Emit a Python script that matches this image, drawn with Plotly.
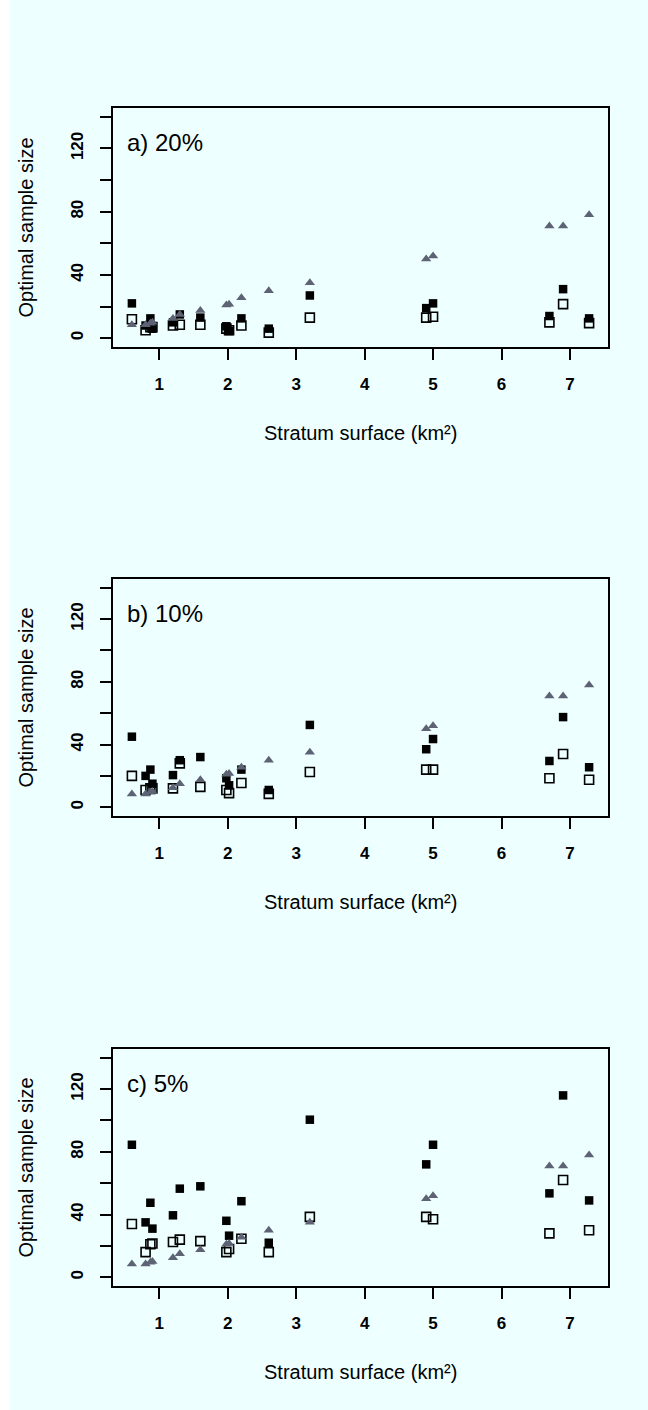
import plotly.graph_objects as go

# Stratum surfaces (km²)
surface = [0.6, 0.8, 0.87, 0.9, 1.2, 1.3, 1.6, 1.98, 2.02, 2.2, 2.6, 3.2, 4.9, 5.0, 6.7, 6.9, 7.28]

# Grey triangles (same in every panel)
tri_vals = [8.5, 8.5, 9.5, 10, 12.5, 15, 17.5, 21, 21.5, 25.5, 30, 35, 50, 52, 71, 71, 78]

# Panel a) 20%
filled_a = [22, 8, 12.5, 6, 10, 15, 13, 7.5, 4.5, 12.5, 6, 27, 19, 22, 14, 31, 12.5]
open_a = [12, 5, 7, 7, 8, 8.5, 8.5, 6, 5, 8, 3.5, 13, 13, 13.5, 10, 21.5, 9.5]

# Panel b) 10%
filled_b = [45, 20, 24, 15, 20.5, 30, 32, 18.5, 14, 24, 11, 52.5, 37, 43.5, 29.5, 57.5, 25.5]
open_b = [20, 11, 12, 12, 12, 28, 13, 11, 9, 15.5, 8.5, 22.5, 24, 24, 18.5, 34, 17.5]

# Panel c) 5%
filled_c = [84.5, 35, 47.5, 31, 39.5, 56.5, 58, 36, 26.5, 48.5, 22, 100.5, 72, 84.5, 53.5, 116, 49]
open_c = [34, 16, 21, 21.5, 22.5, 24, 23, 16, 18, 24.5, 16, 38.5, 38.5, 37, 28, 62, 30]

panel_labels = ["a) 20%", "b) 10%", "c) 5%"]
x_ticks = [1, 2, 3, 4, 5, 6, 7]
y_ticks = [0, 20, 40, 60, 80, 100, 120, 140]
y_ticktext = ["0", "", "40", "", "80", "", "120", ""]

W, H = 648, 1410
ML, MR, MT, MB = 113, 40, 108, 124
PW, PH = W - ML - MR, H - MT - MB

BG = "#eeffff"
TRI = "#5d6374"
FONT = "Liberation Sans, Arial, sans-serif"

# panel top/bottom in pixels
panels_px = [(108, 347), (579, 816), (1049, 1286)]


def py2paper(p):
    return 1 - (p - MT) / PH


def px2paper(p):
    return (p - ML) / PW


fig = go.Figure()
data_sets = [(filled_a, open_a), (filled_b, open_b), (filled_c, open_c)]

annotations = []
for i, ((fil, opn), (top, bot)) in enumerate(zip(data_sets, panels_px)):
    xa = "x" if i == 0 else f"x{i+1}"
    ya = "y" if i == 0 else f"y{i+1}"
    fig.add_trace(go.Scatter(x=surface, y=opn, mode="markers", xaxis=xa, yaxis=ya,
                             marker=dict(symbol="square-open", size=9, color="black",
                                         line=dict(width=1.6, color="black")),
                             showlegend=False))
    fig.add_trace(go.Scatter(x=surface, y=fil, mode="markers", xaxis=xa, yaxis=ya,
                             marker=dict(symbol="square", size=8.5, color="black",
                                         line=dict(width=0)),
                             showlegend=False))
    fig.add_trace(go.Scatter(x=surface, y=tri_vals, mode="markers", xaxis=xa, yaxis=ya,
                             marker=dict(symbol="triangle-up", size=9, color=TRI,
                                         line=dict(width=0)),
                             showlegend=False))

    dom = [py2paper(bot), py2paper(top)]
    axis_common = dict(showline=True, linecolor="black", linewidth=1.5, mirror=True,
                       ticks="outside", ticklen=11, tickwidth=1.5, tickcolor="black",
                       showgrid=False, zeroline=False,
                       tickfont=dict(family=FONT, size=17, color="black", weight="bold"))
    fig.layout[("xaxis" if i == 0 else f"xaxis{i+1}")] = dict(
        axis_common, domain=[0, 1], anchor=ya, range=[0.324, 7.556],
        tickvals=x_ticks, ticklabelstandoff=10)
    fig.layout[("yaxis" if i == 0 else f"yaxis{i+1}")] = dict(
        axis_common, domain=dom, anchor=xa, range=[-5.6, 145.6],
        tickvals=y_ticks, ticktext=y_ticktext, tickangle=-90, ticklabelstandoff=10)

    annotations.append(dict(text=panel_labels[i], x=px2paper(125), y=py2paper(top + 34),
                            xref="paper", yref="paper", xanchor="left", yanchor="middle",
                            showarrow=False, font=dict(family=FONT, size=24, color="black")))
    annotations.append(dict(text="Stratum surface (km²)", x=0.5, y=py2paper(bot + 86),
                            xref="paper", yref="paper", xanchor="center", yanchor="middle",
                            showarrow=False, font=dict(family=FONT, size=20, color="black")))
    annotations.append(dict(text="Optimal sample size", x=px2paper(25), y=py2paper((top + bot) / 2),
                            xref="paper", yref="paper", xanchor="center", yanchor="middle",
                            textangle=-90, showarrow=False,
                            font=dict(family=FONT, size=20, color="black")))

fig.update_layout(
    width=W, height=H,
    margin=dict(l=ML, r=MR, t=MT, b=MB),
    paper_bgcolor=BG, plot_bgcolor=BG,
    annotations=annotations,
    shapes=[dict(type="rect", xref="paper", yref="paper",
                 x0=px2paper(0), x1=px2paper(10), y0=py2paper(H), y1=py2paper(0),
                 fillcolor="white", line=dict(width=0), layer="below")],
)

fig.write_html("out.html")
